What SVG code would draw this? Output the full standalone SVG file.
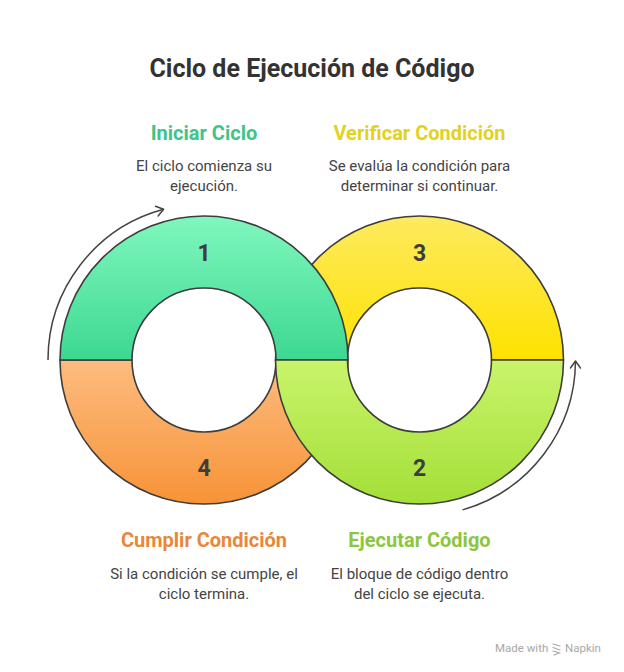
<svg xmlns="http://www.w3.org/2000/svg" width="624" height="672" viewBox="0 0 624 672">
  <defs>
    <linearGradient id="gGreen" x1="0" y1="0" x2="0" y2="1">
      <stop offset="0" stop-color="#80f7be"/>
      <stop offset="1" stop-color="#3dd892"/>
    </linearGradient>
    <linearGradient id="gYellow" x1="0" y1="0" x2="0" y2="1">
      <stop offset="0" stop-color="#fdea5f"/>
      <stop offset="1" stop-color="#fee200"/>
    </linearGradient>
    <linearGradient id="gOrange" x1="0" y1="0" x2="0" y2="1">
      <stop offset="0" stop-color="#fdbc7f"/>
      <stop offset="1" stop-color="#f79338"/>
    </linearGradient>
    <linearGradient id="gLime" x1="0" y1="0" x2="0" y2="1">
      <stop offset="0" stop-color="#c9f46b"/>
      <stop offset="1" stop-color="#a4df38"/>
    </linearGradient>
    <marker id="arrow" viewBox="0 0 12 12" refX="10" refY="6" markerWidth="12" markerHeight="12" markerUnits="userSpaceOnUse" orient="auto">
      <path d="M3,1 L10,6 L3,11" fill="none" stroke="#444" stroke-width="1.5" stroke-linecap="round" stroke-linejoin="round"/>
    </marker>
    <style>
      .seg { stroke: #3d3d3d; stroke-width: 1.6; stroke-linejoin: round; }
      .num { font-family: Roboto, "Liberation Sans", sans-serif; font-weight: 700; font-size: 23px; fill: #3d3d3d; text-anchor: middle; }
      .title { font-family: Roboto, "Liberation Sans", sans-serif; font-weight: 700; font-size: 25px; fill: #333; text-anchor: middle; }
      .head { font-family: Roboto, "Liberation Sans", sans-serif; font-weight: 700; font-size: 20px; text-anchor: middle; }
      .desc { font-family: Roboto, "Liberation Sans", sans-serif; font-size: 15px; fill: #444; text-anchor: middle; }
      .conn { fill: none; stroke: #444; stroke-width: 1.5; }
      .wm { font-family: Roboto, "Liberation Sans", sans-serif; font-size: 11.5px; fill: #a8a8a8; }
    </style>
  </defs>
  <rect width="624" height="672" fill="#ffffff"/>

  <text class="title" x="312" y="77">Ciclo de Ejecución de Código</text>

  <g id="node3">
    <path class="seg" fill="url(#gYellow)" d="M275.5,360 A144,144 0 0 1 563.5,360 L491.5,360 A72,72 0 0 0 347.5,360 Z"/>
    <text class="num" x="419.5" y="261">3</text>
  </g>
  <g id="node4">
    <path class="seg" fill="url(#gOrange)" d="M60,360 A144,144 0 0 0 348,360 L276,360 A72,72 0 0 1 132,360 Z"/>
    <text class="num" x="204" y="476">4</text>
  </g>
  <g id="node1">
    <path class="seg" fill="url(#gGreen)" d="M60,360 A144,144 0 0 1 348,360 L276,360 A72,72 0 0 0 132,360 Z"/>
    <text class="num" x="204" y="261">1</text>
  </g>
  <g id="node2">
    <path class="seg" fill="url(#gLime)" d="M275.5,360 A144,144 0 0 0 563.5,360 L491.5,360 A72,72 0 0 1 347.5,360 Z"/>
    <text class="num" x="419.5" y="476">2</text>
  </g>

  <g id="connectors">
    <path class="conn" marker-end="url(#arrow)" d="M48,360 A156,156 0 0 1 163.6,209.3"/>
    <path class="conn" marker-end="url(#arrow)" d="M462.5,509.9 A156,156 0 0 0 575.5,361"/>
  </g>

  <g id="label1">
    <text class="head" x="204" y="139.5" fill="#3fc488">Iniciar Ciclo</text>
    <text class="desc" x="204" y="171">El ciclo comienza su</text>
    <text class="desc" x="204" y="190.5">ejecución.</text>
  </g>
  <g id="label3">
    <text class="head" x="419.5" y="139.5" fill="#e2d21e">Verificar Condición</text>
    <text class="desc" x="419.5" y="171">Se evalúa la condición para</text>
    <text class="desc" x="419.5" y="190.5">determinar si continuar.</text>
  </g>
  <g id="label4">
    <text class="head" x="204" y="547" fill="#e8873a">Cumplir Condición</text>
    <text class="desc" x="204" y="579">Si la condición se cumple, el</text>
    <text class="desc" x="204" y="598.5">ciclo termina.</text>
  </g>
  <g id="label2">
    <text class="head" x="419.5" y="547" fill="#8cc63f">Ejecutar Código</text>
    <text class="desc" x="419.5" y="579">El bloque de código dentro</text>
    <text class="desc" x="419.5" y="598.5">del ciclo se ejecuta.</text>
  </g>

  <g id="watermark">
    <text class="wm" x="495" y="652">Made with</text>
    <path d="M553,644 L560,646 M553,647.5 L560,650 M553,651 L560,653 M554,655 L559,653" fill="none" stroke="#a8a8a8" stroke-width="1.2" stroke-linecap="round"/>
    <text class="wm" x="565" y="652">Napkin</text>
  </g>
</svg>
